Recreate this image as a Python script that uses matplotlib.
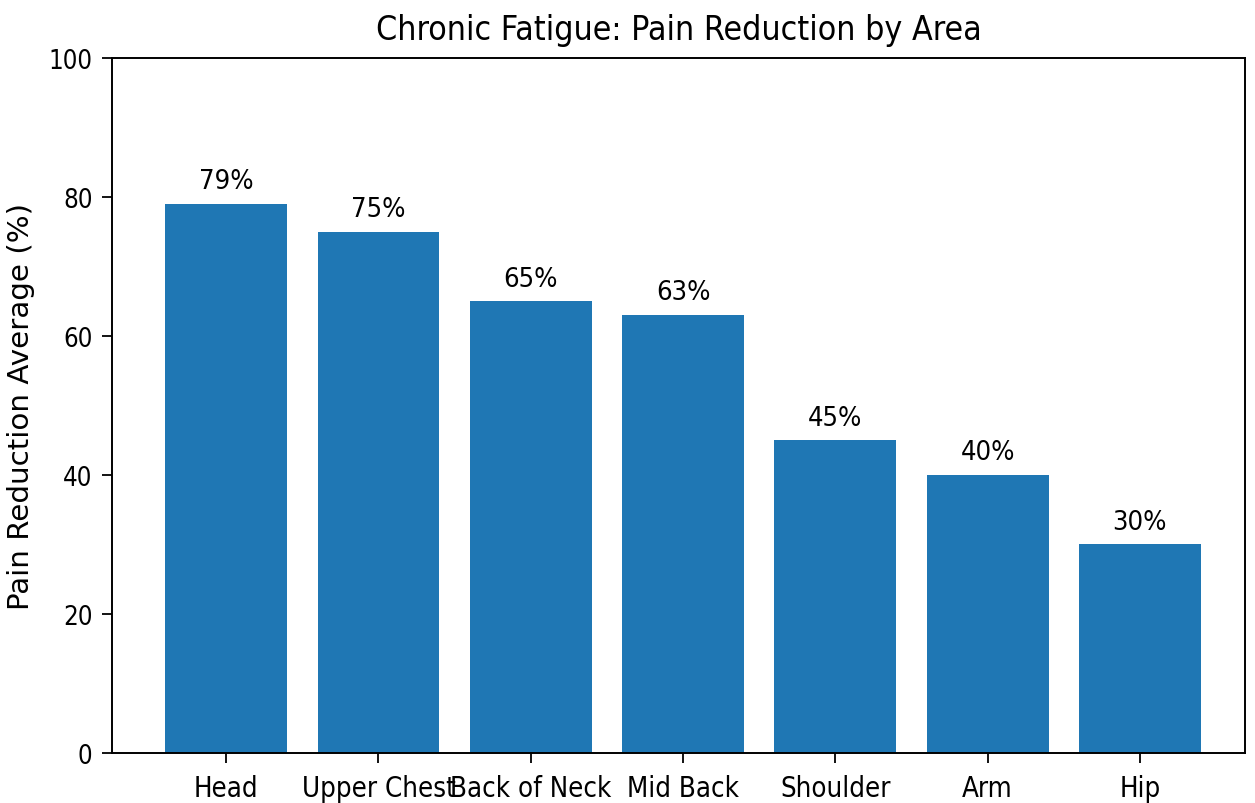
import matplotlib
matplotlib.use("Agg")
import matplotlib.pyplot as plt
import numpy as np

# Data
areas = ["Head", "Upper Chest", "Back of Neck", "Mid Back", "Shoulder", "Arm", "Hip"]
reduction = [79, 75, 65, 63, 45, 40, 30]
bar_text = ["79%", "75%", "65%", "63%", "45%", "40%", "30%"]

# narrow look of the original text
plt.rcParams["font.family"] = "DejaVu Sans"
plt.rcParams["font.stretch"] = "condensed"

fig = plt.figure(figsize=(12.55, 8.04), dpi=100)
ax = fig.add_axes([0.0892, 0.0622, 0.9028, 0.8644])

x = np.arange(len(areas))
bars = ax.bar(x, reduction, width=0.8, color="#1f77b4")
ax.bar_label(bars, labels=bar_text, padding=7, fontsize=19.6)

ax.set_xticks(x)
ax.set_xticklabels(areas, fontsize=19.8)
ax.set_xlim(-0.75, 6.69)
ax.set_ylim(0, 100)
ax.set_yticks([0, 20, 40, 60, 80, 100])
ax.tick_params(axis="y", labelsize=18.5, length=7, width=1.3, pad=7)
ax.tick_params(axis="x", length=7, width=1.3, pad=8)
for s in ax.spines.values():
    s.set_linewidth(1.4)

ax.set_ylabel("Pain Reduction Average (%)", fontsize=21.2, fontstretch="normal", labelpad=10)
ax.set_title("Chronic Fatigue: Pain Reduction by Area", fontsize=24.3, pad=14)

plt.savefig("out.png", dpi=100)
